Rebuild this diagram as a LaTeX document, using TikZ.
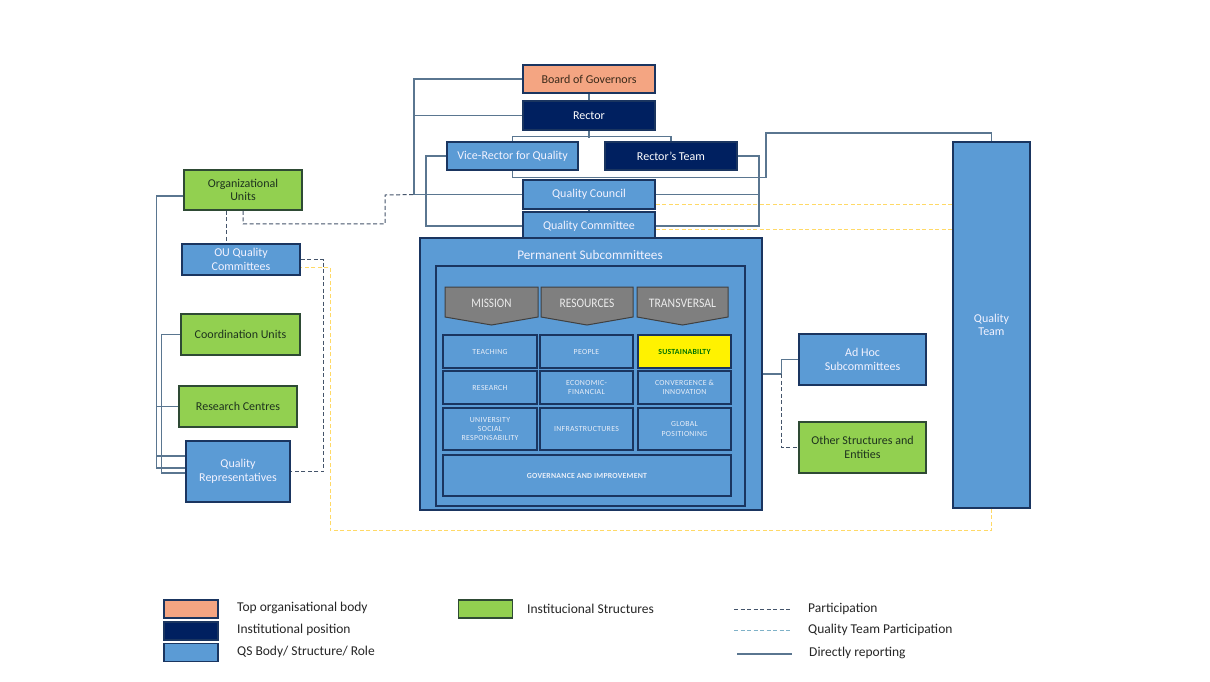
\documentclass[tikz,border=0pt]{standalone}
\usepackage{fontspec}
\setmainfont{Carlito}
\usepackage{graphicx}
\definecolor{orangeF}{HTML}{F4A582}
\definecolor{navy}{HTML}{002060}
\definecolor{blueF}{HTML}{5B9BD5}
\definecolor{greenF}{HTML}{92D050}
\definecolor{bord}{HTML}{1A3560}
\definecolor{gbord}{HTML}{2E4A34}
\definecolor{linec}{HTML}{5A7690}
\definecolor{partc}{HTML}{44546A}
\definecolor{qtpc}{HTML}{FFD966}
\definecolor{qtplg}{HTML}{7FB2C8}
\definecolor{gtext}{HTML}{1E331E}
\definecolor{otext}{HTML}{3A2A1A}
\definecolor{chevF}{HTML}{7F7F7F}
\definecolor{chevB}{HTML}{404040}
\definecolor{celltext}{HTML}{E8EEF8}
\definecolor{legtext}{HTML}{262626}
\begin{document}
\begin{tikzpicture}[x=1pt,y=-1pt,
  box/.style={draw=bord,line width=1.6pt,inner sep=1pt,align=center,font=\fontsize{12}{13.5}\selectfont},
  bluebox/.style={box,fill=blueF,text=white!95!blue},
  navybox/.style={box,fill=navy,text=white},
  greenbox/.style={box,draw=gbord,fill=greenF,text=gtext},
  cell/.style={draw=bord,line width=1.4pt,fill=blueF,text=celltext,align=center,inner sep=0pt,font=\addfontfeature{LetterSpace=4}\fontsize{7.8}{9.2}\selectfont},
  chev/.style={draw=chevB,line width=1pt,fill=chevF},
  chevtext/.style={text=white!92!black,font=\fontsize{13}{14}\selectfont},
  rep/.style={draw=linec,line width=1.1pt},
  part/.style={draw=partc,line width=1pt,dash pattern=on 4pt off 2.5pt},
  qtp/.style={draw=qtpc,line width=1pt,dash pattern=on 4pt off 2.5pt},
  qtplegend/.style={draw=qtplg,line width=1pt,dash pattern=on 4pt off 2.5pt},
  legbox/.style={draw=bord,line width=1.4pt,minimum width=54pt,minimum height=18pt,inner sep=0pt},
  legtxt/.style={anchor=west,text=legtext,font=\fontsize{13.5}{15}\selectfont,inner sep=0pt}
]
\fill[white] (0,0) rectangle (1210,681);
\useasboundingbox (0,0) rectangle (1210,681);

% routing coordinates
\coordinate (xa) at (414,0);
\coordinate (xb) at (426,0);
\coordinate (xc) at (759,0);

% ---- top column ----
\node[box,fill=orangeF,text=otext,minimum width=132pt,minimum height=28pt] (bog) at (589,79) {Board of Governors};
\node[navybox,minimum width=132pt,minimum height=29pt] (rector) at (589,115.5) {Rector};
\node[bluebox,minimum width=131pt,minimum height=28pt] (vrq) at (512.5,156) {Vice-Rector for Quality};
\node[navybox,minimum width=132pt,minimum height=28pt] (rteam) at (671,156) {Rector's Team};
\node[bluebox,minimum width=132pt,minimum height=29pt] (qcouncil) at (589,194.5) {Quality Council};
\node[bluebox,minimum width=132pt,minimum height=28pt] (qcommittee) at (589,226) {Quality Committee};

% ---- permanent subcommittees ----
\node[box,fill=blueF,minimum width=342pt,minimum height=272pt] (perm) at (591,374) {};
\node[text=white!95!blue,font=\fontsize{13.2}{14.5}\selectfont] (permtitle) at (590,254.5) {Permanent Subcommittees};
\node[draw=bord,line width=1.6pt,minimum width=309pt,minimum height=240pt,inner sep=0pt] (inner) at (590.5,386) {};

% chevrons
\draw[chev] (445,287) -- (538,287) -- (538,317) -- (491.5,325) -- (445,317) -- cycle;
\draw[chev] (541,287) -- (633,287) -- (633,317) -- (587,325) -- (541,317) -- cycle;
\draw[chev] (637,287) -- (728,287) -- (728,317) -- (682.5,325) -- (637,317) -- cycle;
\node[chevtext] (cmission) at (491.5,303) {\scalebox{0.86}[1]{MISSION}};
\node[chevtext] (cresources) at (587,303) {\scalebox{0.88}[1]{RESOURCES}};
\node[chevtext] (ctransversal) at (682.5,303) {\scalebox{0.9}[1]{TRANSVERSAL}};

% grid cells
\node[cell,minimum width=94pt,minimum height=33pt] (teaching) at (490,351.5) {TEACHING};
\node[cell,minimum width=93pt,minimum height=33pt] (people) at (586.5,351.5) {PEOPLE};
\node[cell,fill=yellow,text=green!45!black,minimum width=93pt,minimum height=33pt,font=\bfseries\addfontfeature{LetterSpace=3}\fontsize{7.8}{9.2}\selectfont] (sustain) at (684.5,351.5) {SUSTAINABILTY};
\node[cell,minimum width=94pt,minimum height=33pt] (research2) at (490,387.5) {RESEARCH};
\node[cell,minimum width=93pt,minimum height=33pt] (econ) at (586.5,387.5) {ECONOMIC-\\FINANCIAL};
\node[cell,minimum width=93pt,minimum height=33pt] (conv) at (684.5,387.5) {CONVERGENCE \&\\INNOVATION};
\node[cell,minimum width=94pt,minimum height=42pt] (usr) at (490,429) {UNIVERSITY\\SOCIAL\\RESPONSABILITY};
\node[cell,minimum width=93pt,minimum height=42pt] (infra) at (586.5,429) {INFRASTRUCTURES};
\node[cell,minimum width=93pt,minimum height=42pt] (global) at (684.5,429) {GLOBAL\\POSITIONING};
\node[cell,minimum width=288pt,minimum height=41pt,font=\bfseries\addfontfeature{LetterSpace=3}\fontsize{7.8}{9.2}\selectfont] (gov) at (587,475.5) {GOVERNANCE AND IMPROVEMENT};

% ---- right side ----
\node[bluebox,minimum width=127pt,minimum height=51pt] (adhoc) at (862.5,359.5) {Ad Hoc\\Subcommittees};
\node[greenbox,minimum width=127pt,minimum height=51pt] (other) at (862.5,447.5) {Other Structures and\\Entities};
\node[bluebox,minimum width=77pt,minimum height=366pt] (qteam) at (991.5,325) {Quality\\Team};

% ---- left side ----
\node[greenbox,minimum width=118pt,minimum height=40pt] (orgunits) at (243,190) {Organizational\\Units};
\node[bluebox,minimum width=118pt,minimum height=31pt] (ouqc) at (241,259.5) {OU Quality\\Committees};
\node[greenbox,minimum width=119pt,minimum height=41pt] (coord) at (240.5,334.5) {Coordination Units};
\node[greenbox,minimum width=118pt,minimum height=41pt] (research) at (238,406.5) {Research Centres};
\node[bluebox,minimum width=104pt,minimum height=61pt] (qreps) at (238,471.5) {Quality\\Representatives};

% ---- directly reporting connectors ----
\draw[rep] (bog.south) -- (rector.north);
\draw[rep] (bog.west) -- (bog.west -| xa) |- (qcouncil.west);
\draw[rep] (rector.west) -- (rector.west -| xa);
\draw[rep] (rector.south) -- ++(0,7);
\draw[rep] (vrq.north) -- ++(0,-5) -| (rteam.north);
\draw[rep] (vrq.south) -- ++(0,7) -| (766,133) -| (qteam.north);
\draw[rep] (vrq.west) -- (vrq.west -| xb) |- (qcommittee.west);
\draw[rep] (rteam.east) -- (rteam.east -| xc) |- (qcommittee.east);
\draw[rep] (qcouncil.east) -- (qcouncil.east -| xc);
\draw[rep] (qcouncil.south) -- (qcommittee.north);
\draw[rep] ([yshift=-6pt]orgunits.west) -- ++(-27,0) |- ([yshift=15.5pt]qreps.west);
\draw[rep] (research.west) -- ++(-22,0) |- ([yshift=3.5pt]qreps.west);
\draw[rep] (coord.west) -- ++(-19,0) |- ([yshift=-1.5pt]qreps.west);
\draw[rep] (perm.east) -- ++(19,0) |- (adhoc.west);

% ---- participation connectors ----
\draw[part] ([xshift=-17pt]orgunits.south) -- ([xshift=-15pt]ouqc.north);
\draw[part] (orgunits.south) -- ++(0,13) -| (385,195) -- (xa |- qcouncil.west);
\draw[part] (ouqc.east) -- ++(23,0) |- (qreps.east);
\draw[part] (perm.east) ++(19,0) |- (other.west);

% ---- quality team participation ----
\draw[qtp] ([yshift=-9.5pt]qcouncil.east) coordinate (t1) -- (t1 -| qteam.west);
\draw[qtp] ([yshift=-3pt]qcommittee.east) coordinate (t2) -- (t2 -| qteam.west);
\draw[qtp] (qteam.south) -- ++(0,22) -| (330,267) -- ([yshift=-7.5pt]ouqc.east);

% ---- legend ----
\node[legbox,fill=orangeF] (lg1) at (191,609) {};
\node[legbox,fill=navy] (lg2) at (191,631) {};
\node[legbox,fill=blueF] (lg3) at (191,652.5) {};
\node[legbox,draw=gbord,fill=greenF] (lg4) at (485.5,609) {};
\node[legtxt] (lt1) at (237,608) {Top organisational body};
\node[legtxt] (lt2) at (237,629.5) {Institutional position};
\node[legtxt] (lt3) at (237,651.5) {QS Body/ Structure/ Role};
\node[legtxt] (lt4) at (527,609) {Institucional Structures};

\coordinate (la1) at (734,609); \coordinate (lb1) at (790,609);
\coordinate (la2) at (734,630); \coordinate (lb2) at (790,630);
\coordinate (la3) at (737,654); \coordinate (lb3) at (792,654);
\draw[part] (la1) -- (lb1);
\draw[qtplegend] (la2) -- (lb2);
\draw[rep] (la3) -- (lb3);
\node[legtxt] (lt5) at (808,609) {Participation};
\node[legtxt] (lt6) at (808,630) {Quality Team Participation};
\node[legtxt] (lt7) at (809,653) {Directly reporting};
\end{tikzpicture}
\end{document}
